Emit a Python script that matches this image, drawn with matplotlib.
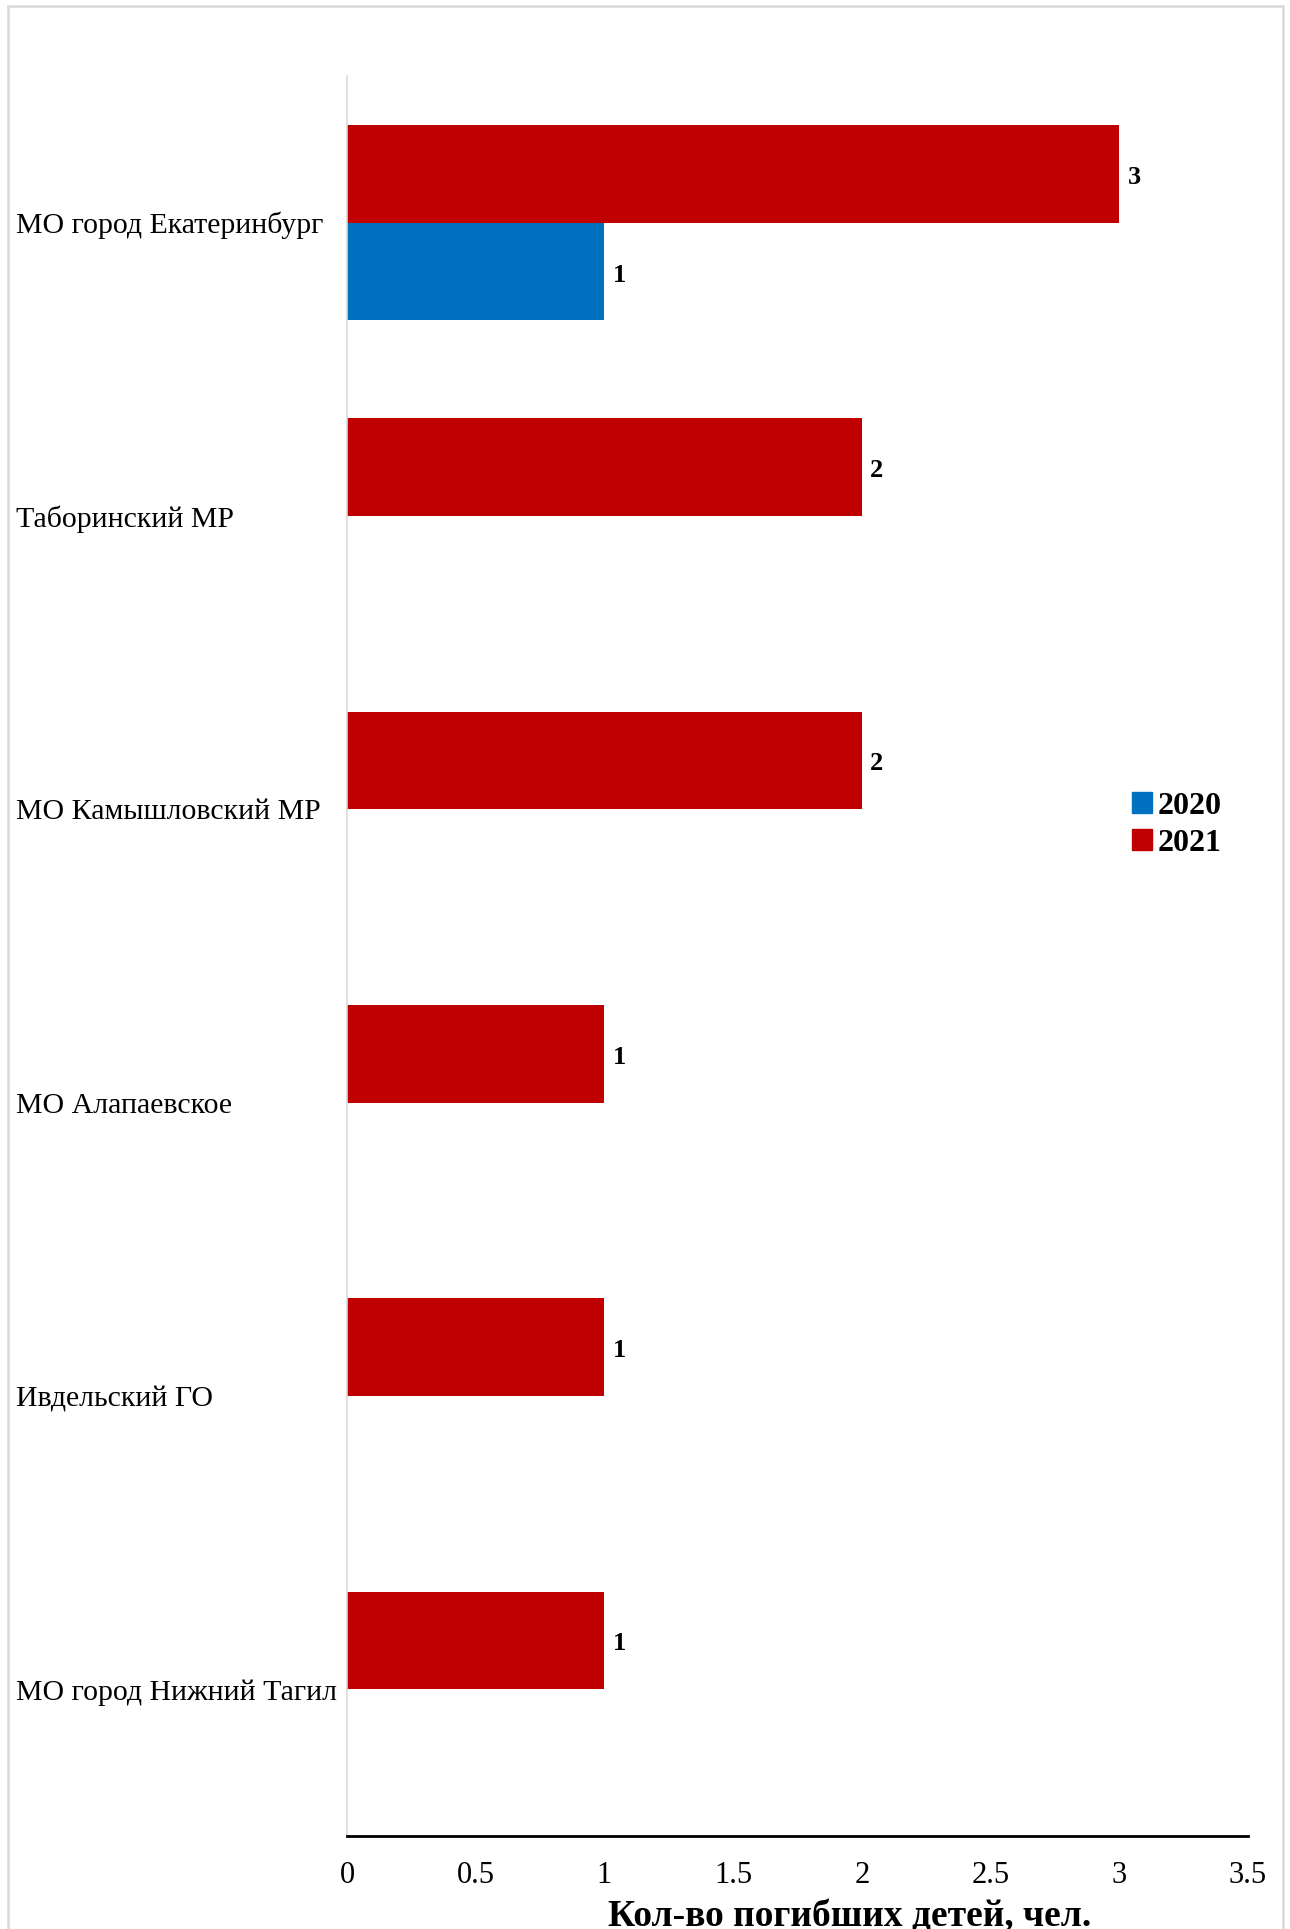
import matplotlib
matplotlib.use("Agg")
from matplotlib import pyplot as plt
from matplotlib.patches import Patch, Rectangle

plt.rcParams['font.family'] = ['Liberation Serif', 'DejaVu Serif']

# данные
territorii = ['МО город Екатеринбург', 'Таборинский МР', 'МО Камышловский МР',
              'МО Алапаевское', 'Ивдельский ГО', 'МО город Нижний Тагил']
god_2020 = [1, 0, 0, 0, 0, 0]
god_2021 = [3, 2, 2, 1, 1, 1]
cvet_2020 = '#0070C0'
cvet_2021 = '#C00000'

fig = plt.figure(figsize=(12.9, 19.29), dpi=100)
ax = fig.add_axes([0.269, 0.0482, 0.6984, 0.9124])

pos = list(range(len(territorii)))
h = 1 / 3
b21 = ax.barh([p - h / 2 for p in pos], god_2021, height=h, color=cvet_2021)
b20 = ax.barh([p + h / 2 for p in pos], god_2020, height=h, color=cvet_2020)

# подписи значений
for bars, vals in ((b21, god_2021), (b20, god_2020)):
    for bar, v in zip(bars, vals):
        if v > 0:
            ax.annotate(str(v), (v, bar.get_y() + bar.get_height() / 2),
                        xytext=(6, -2.5), textcoords='offset points',
                        va='center', ha='left', fontsize=19, fontweight='bold')

ax.set_ylim(len(territorii) - 0.5, -0.5)
ax.set_xlim(0, 3.5)
ax.set_xticks([0, 0.5, 1, 1.5, 2, 2.5, 3, 3.5])
ax.set_xticklabels(['0', '0.5', '1', '1.5', '2', '2.5', '3', '3.5'])
ax.set_yticks(pos)
ax.set_yticklabels(territorii)
for lab in ax.get_yticklabels():
    lab.set_ha('left')
ax.tick_params(axis='y', length=0, pad=238, labelsize=21.5)
ax.tick_params(axis='x', length=0, pad=18, labelsize=22)

for s in ['top', 'right']:
    ax.spines[s].set_visible(False)
ax.spines['left'].set_color('#D9D9D9')
ax.spines['left'].set_linewidth(1.2)
ax.spines['bottom'].set_color('black')
ax.spines['bottom'].set_linewidth(2)

# подпись оси (в оригинале обрезана нижним краем)
fig.text(0.659, 0.0155, 'Кол-во погибших детей, чел.', ha='center', va='top',
         fontsize=27, fontweight='bold')

ax.legend(handles=[Patch(color=cvet_2020, label='2020'), Patch(color=cvet_2021, label='2021')],
          loc='center left', bbox_to_anchor=(0.855, 0.5725), bbox_transform=fig.transFigure,
          frameon=False, prop={'size': 23, 'weight': 'bold'},
          handlelength=0.62, handleheight=0.62, handletextpad=0.2, labelspacing=0.25)

# рамка области диаграммы
fig.patches.append(Rectangle((8 / 1290, -0.01), 1275 / 1290, 1.01 - 6 / 1929,
                             transform=fig.transFigure, fill=False,
                             edgecolor='#D9D9D9', linewidth=1.8))

fig.savefig('out.png', dpi=100)
